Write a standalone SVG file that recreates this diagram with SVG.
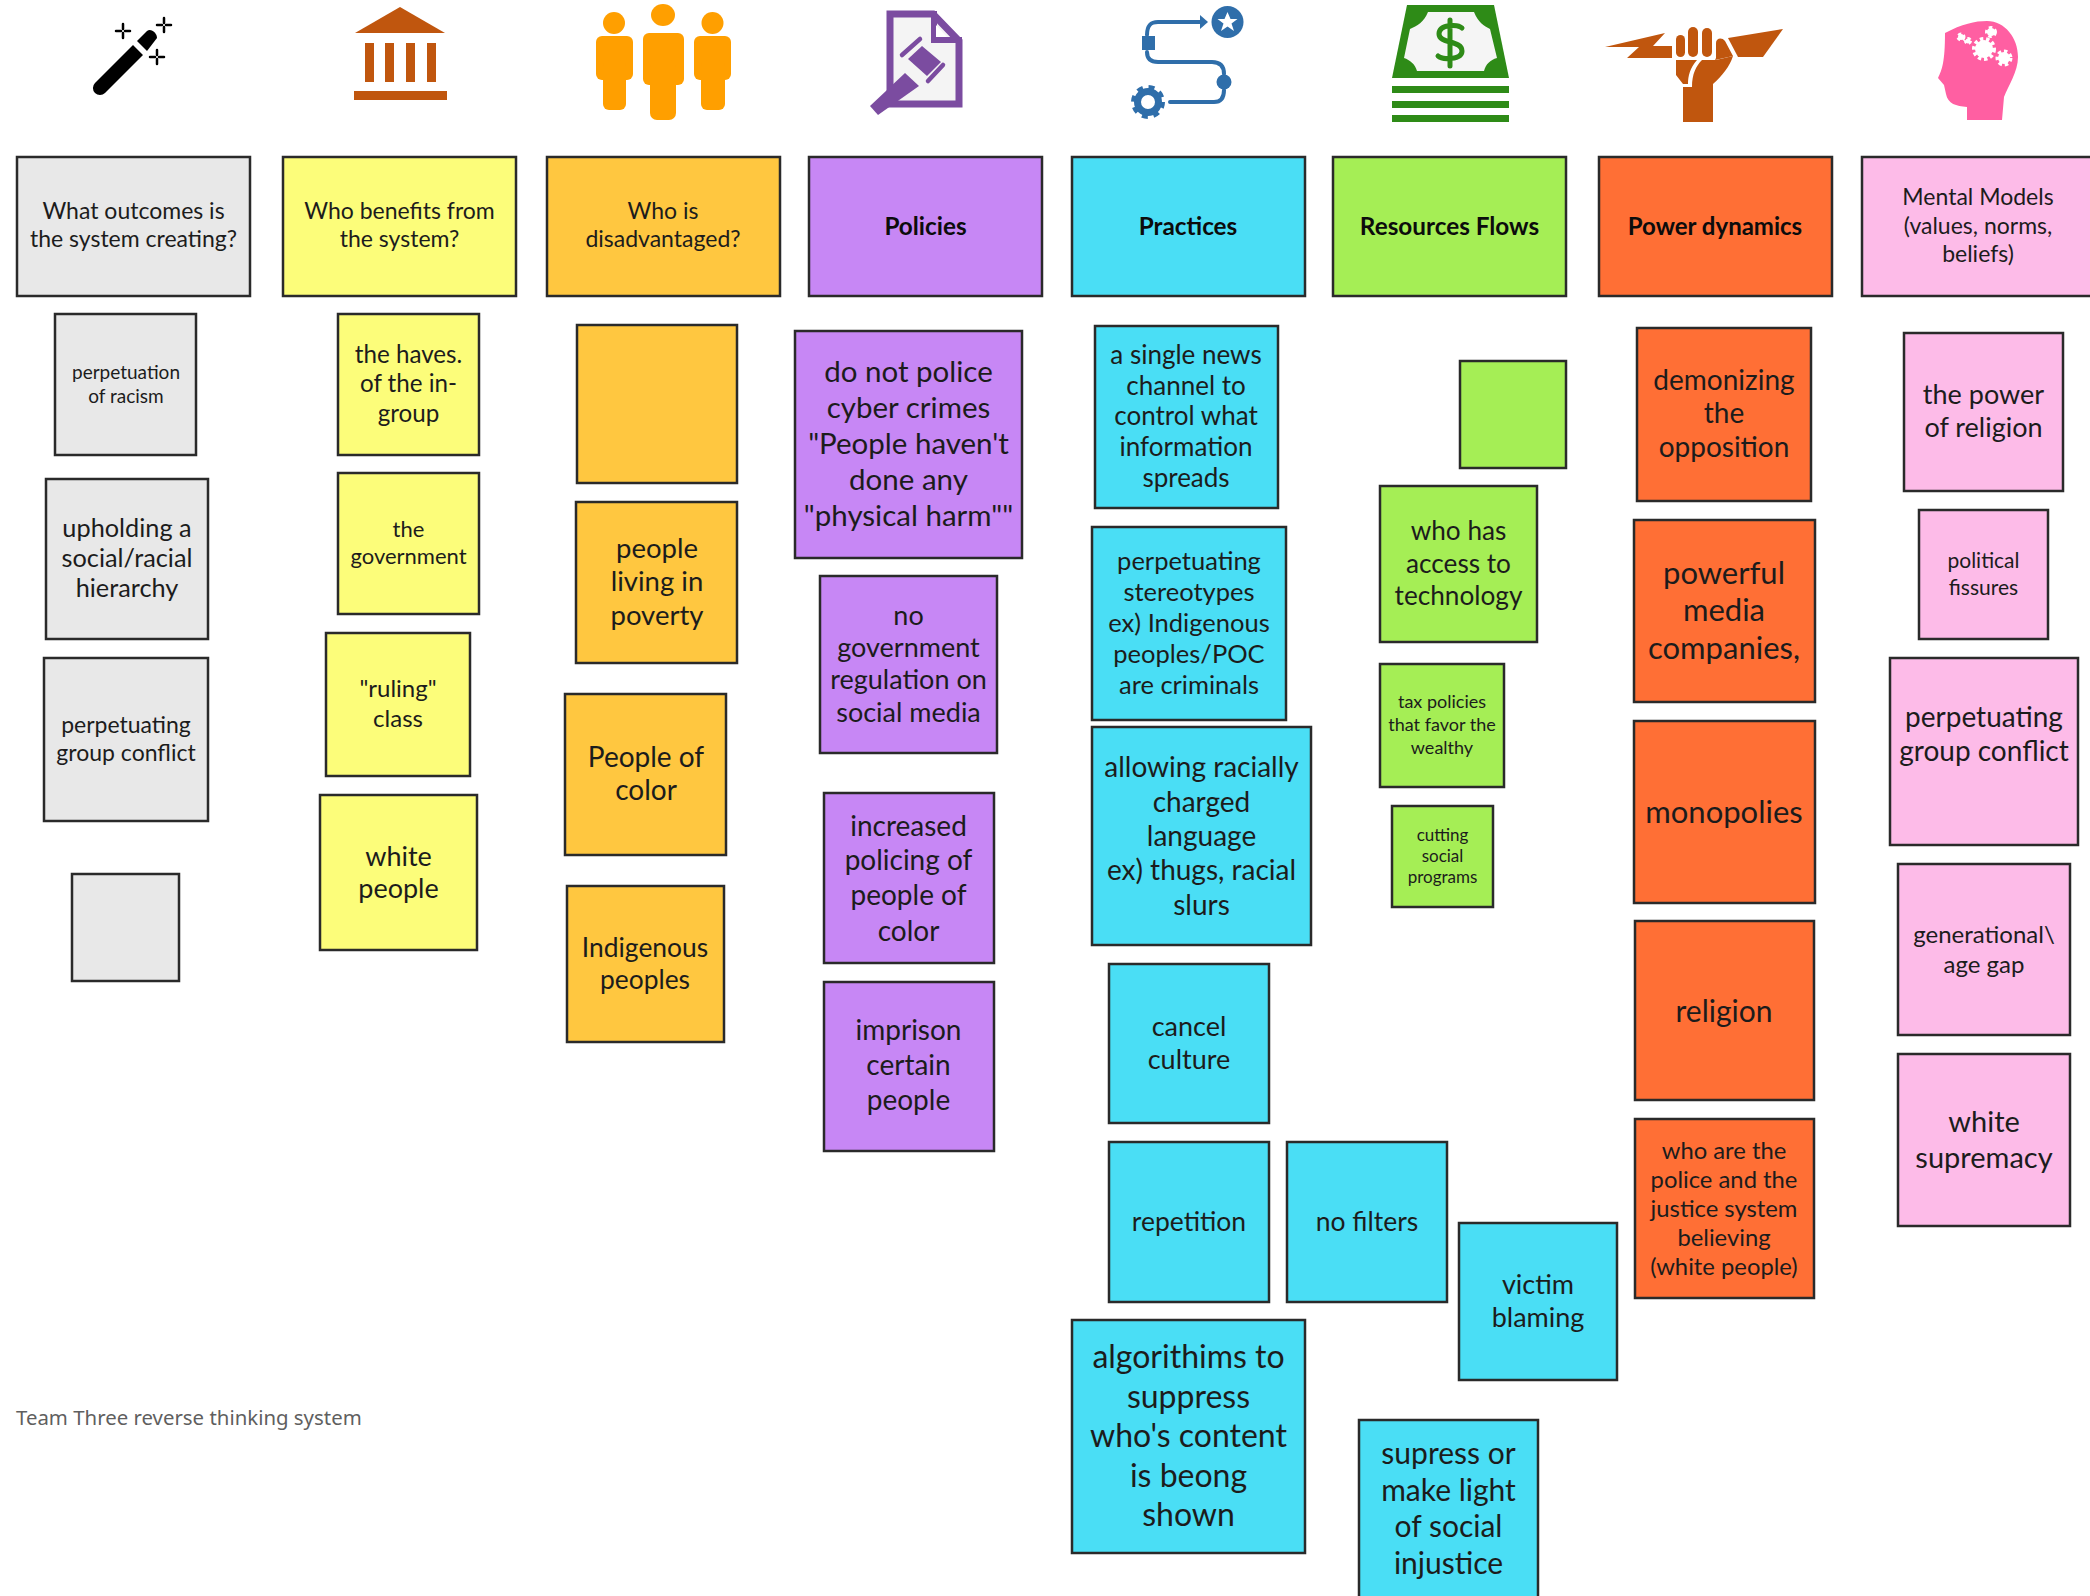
<svg xmlns="http://www.w3.org/2000/svg" width="2090" height="1596" viewBox="0 0 2090 1596">
<style>
rect.n{stroke:#2a2a2a;stroke-width:2.5}
.gy{fill:#e8e8e8}.yl{fill:#fcfd7a}.og{fill:#ffc740}.pu{fill:#c787f5}.bl{fill:#4adef5}.gr{fill:#a5ee55}.rd{fill:#ff6f35}.pk{fill:#fdbbe8}
text{font-family:"Lato","Liberation Sans",sans-serif;text-anchor:middle;fill:#1c1c1c}
.b{font-weight:700;fill:#0c0c0c}
.cap{font-family:"Noto Sans","Liberation Sans",sans-serif;text-anchor:start;fill:#5f5f5f;font-size:20.400px}
.bank{fill:#c0560e}.ppl{fill:#ff9f00}.doc{fill:#7b4ca0}.flow{stroke:#2f6eaa;fill:none;stroke-width:4;stroke-linecap:round}.flf{fill:#2f6eaa}.cash{fill:#2e8b17}.head{fill:#ff5fa2}
</style>
<g id="icons">
<g id="icon-wand"><path d="M95 83L133 45L143 55L105 93A7 7 0 0 1 95 83Z" fill="#000"/><path d="M137 41L147 31C151 28 157 33 157 38L147 51Z" fill="#000"/>
<path d="M123 24v5M123 33v5M116 31h5M125 31h5M164 18v5M164 27v5M157 25h5M166 25h5M157 50v5M157 59v5M150 57h5M159 57h5" stroke="#000" stroke-width="2.500" stroke-linecap="round"/></g>
<g id="icon-bank" class="bank"><path d="M400 7L445 33L355 33Z"/><rect x="365" y="43" width="9" height="39"/><rect x="385" y="43" width="9" height="39"/><rect x="406" y="43" width="9" height="39"/><rect x="427" y="43" width="9" height="39"/><rect x="354" y="91" width="93" height="9"/></g>
<g id="icon-people" class="ppl"><ellipse cx="663" cy="15" rx="12" ry="11"/><rect x="643" y="33" width="41" height="52" rx="6"/><rect x="650" y="60" width="26" height="60" rx="7"/>
<ellipse cx="614" cy="23" rx="11" ry="11"/><rect x="596" y="36" width="37" height="44" rx="6"/><rect x="603" y="60" width="23" height="50" rx="6"/>
<ellipse cx="712.500" cy="23" rx="11" ry="11"/><rect x="694" y="36" width="37" height="44" rx="6"/><rect x="701" y="60" width="24" height="50" rx="6"/></g>
<g id="icon-doc"><path d="M890 14H933L959 41V104H890Z" fill="#f4f4f4" stroke="#7b4ca0" stroke-width="7"/><path d="M934 11V40H962" fill="none" stroke="#7b4ca0" stroke-width="6"/><path d="M936 25L947 37H936Z" fill="#fff"/>
<path class="doc" d="M870 106L905 73L919 86L878 115Z"/><path class="doc" d="M908 59L922 46L941 62L927 76Z"/><path d="M902 55L920 39M928 81L943 65" stroke="#7b4ca0" stroke-width="4.500" stroke-linecap="round"/></g>
<g id="icon-flow"><circle class="flf" cx="1227.500" cy="22" r="16"/><path d="M1227.500 12l3 7h7l-6 4.500 2.500 7.500-6.500-4.500-6.500 4.500 2.500-7.500-6-4.500h7z" fill="#fff"/>
<path class="flow" d="M1147 35C1147 26 1150 22 1158 22H1200M1147 52C1147 58 1150 62 1158 62H1212C1220 62 1224 66 1224 74M1224 90C1224 98 1221 102 1214 102H1170"/><path class="flf" d="M1200 15L1208 22L1200 29Z"/><rect class="flf" x="1142" y="36" width="13" height="14"/><circle class="flf" cx="1224" cy="82" r="7.500"/>
<circle cx="1148" cy="102" r="10.500" fill="none" stroke="#2f6eaa" stroke-width="7"/><circle cx="1148" cy="102" r="15" fill="none" stroke="#2f6eaa" stroke-width="4" stroke-dasharray="6 5.800"/></g>
<g id="icon-money"><path class="cash" d="M1407 5H1494L1509 78H1392Z"/><path d="M1428 12H1474C1478 22 1484 26 1490 29L1497 58C1490 60 1486 64 1484 71H1417C1415 64 1410 60 1404 58L1410 29C1417 26 1424 22 1428 12Z" fill="#f5f5f5"/>
<path d="M1462 28C1458 24 1439 24 1439 34C1439 44 1462 40 1462 51C1462 60 1442 60 1438 56M1450 20V66" fill="none" stroke="#2e8b17" stroke-width="5" stroke-linecap="round"/>
<rect class="cash" x="1392" y="86" width="117" height="7"/><rect class="cash" x="1392" y="101" width="117" height="7"/><rect class="cash" x="1392" y="115" width="117" height="7"/></g>
<g id="icon-fist" class="bank"><path d="M1605 47L1665 33L1653 46H1672V58H1627L1639 47Z"/><path d="M1783 29L1728 38L1738 57H1763Z"/><rect x="1676" y="35" width="9" height="22" rx="4.500"/><rect x="1688" y="27" width="10" height="30" rx="5"/><rect x="1702" y="28" width="10" height="29" rx="5"/><path d="M1716 58V43C1716 38 1722 37 1725 41L1733 56L1715 60Z"/>
<path d="M1676 60H1697C1690 68 1688 76 1688 84H1683L1676 75Z"/><path d="M1702 60H1716L1733 56C1730 66 1722 76 1713 84V122H1683V87H1692C1692 74 1696 66 1702 60Z"/></g>
<g id="icon-head"><path class="head" d="M1945 33C1962 24 1975 21 1987 21C2005 21 2018 38 2018 57C2018 72 2008 86 2004 97L2002 120H1967V107C1956 106 1948 104 1946 94L1944 85L1938 78C1942 70 1945 62 1945 33Z"/>
<g fill="#fff" stroke="#fff" stroke-dasharray="3 2.500"><circle cx="1984" cy="49" r="9" stroke-width="6"/><circle cx="2004" cy="58" r="6" stroke-width="5"/><circle cx="1991" cy="32" r="4" stroke-width="4"/><circle cx="1961" cy="37" r="3" stroke-width="3"/><circle cx="1968" cy="41" r="2.500" stroke-width="3"/></g></g>
</g>
<g id="connectors"/>
<g id="h1"><rect class="n gy" x="17" y="157" width="233" height="139"/><text font-size="23" x="133.500" y="219">What outcomes is</text><text font-size="23" x="133.500" y="247">the system creating?</text></g>
<g id="h2"><rect class="n yl" x="283" y="157" width="233" height="139"/><text font-size="23" x="399.500" y="219">Who benefits from</text><text font-size="23" x="399.500" y="247">the system?</text></g>
<g id="h3"><rect class="n og" x="547" y="157" width="233" height="139"/><text font-size="23" x="663" y="219">Who is</text><text font-size="23" x="663" y="247">disadvantaged?</text></g>
<g id="h4"><rect class="n pu" x="809" y="157" width="233" height="139"/><text class="b" font-size="24.300" x="925.500" y="235">Policies</text></g>
<g id="h5"><rect class="n bl" x="1072" y="157" width="233" height="139"/><text class="b" font-size="24.300" x="1188" y="235">Practices</text></g>
<g id="h6"><rect class="n gr" x="1333" y="157" width="233" height="139"/><text class="b" font-size="24.300" x="1449.500" y="235">Resources Flows</text></g>
<g id="h7"><rect class="n rd" x="1599" y="157" width="233" height="139"/><text class="b" font-size="24" x="1715" y="235">Power dynamics</text></g>
<g id="h8"><rect class="n pk" x="1862" y="157" width="240" height="139"/><text font-size="23" x="1978" y="205">Mental Models</text><text font-size="23" x="1978" y="234">(values, norms,</text><text font-size="23" x="1978" y="262">beliefs)</text></g>

<g id="a1"><rect class="n gy" x="55" y="314" width="141" height="141"/><text font-size="19" x="126" y="379">perpetuation</text><text font-size="19" x="126" y="403">of racism</text></g>
<g id="a2"><rect class="n gy" x="46" y="479" width="162" height="160"/><text font-size="25.300" x="127" y="537">upholding a</text><text font-size="25.300" x="127" y="567">social/racial</text><text font-size="25.300" x="127" y="597">hierarchy</text></g>
<g id="a3"><rect class="n gy" x="44" y="658" width="164" height="163"/><text font-size="23" x="126" y="733">perpetuating</text><text font-size="23" x="126" y="761">group conflict</text></g>
<g id="a4"><rect class="n gy" x="72" y="874" width="107" height="107"/></g>

<g id="b1"><rect class="n yl" x="338" y="314" width="141" height="141"/><text font-size="24.200" x="408.500" y="363">the haves.</text><text font-size="24.200" x="408.500" y="392">of the in-</text><text font-size="24.200" x="408.500" y="422">group</text></g>
<g id="b2"><rect class="n yl" x="338" y="473" width="141" height="141"/><text font-size="22" x="408.500" y="537">the</text><text font-size="22" x="408.500" y="564">government</text></g>
<g id="b3"><rect class="n yl" x="326" y="633" width="144" height="143"/><text font-size="24" x="398" y="697">"ruling"</text><text font-size="24" x="398" y="727">class</text></g>
<g id="b4"><rect class="n yl" x="320" y="795" width="157" height="155"/><text font-size="27" x="398.500" y="866">white</text><text font-size="27" x="398.500" y="898">people</text></g>

<g id="c1"><rect class="n og" x="577" y="325" width="160" height="158"/></g>
<g id="c2"><rect class="n og" x="576" y="502" width="161" height="161"/><text font-size="27.500" x="657" y="558">people</text><text font-size="27.500" x="657" y="591">living in</text><text font-size="27.500" x="657" y="625">poverty</text></g>
<g id="c3"><rect class="n og" x="565" y="694" width="161" height="161"/><text font-size="28" x="646" y="767">People of</text><text font-size="28" x="646" y="800">color</text></g>
<g id="c4"><rect class="n og" x="567" y="886" width="157" height="156"/><text font-size="26.400" x="645" y="957">Indigenous</text><text font-size="26.400" x="645" y="989">peoples</text></g>

<g id="d1"><rect class="n pu" x="795" y="331" width="227" height="227"/><text font-size="29.500" x="908.500" y="382">do not police</text><text font-size="29.500" x="908.500" y="418">cyber crimes</text><text font-size="29.500" x="908.500" y="454">"People haven't</text><text font-size="29.500" x="908.500" y="490">done any</text><text font-size="29.500" x="908.500" y="526">"physical harm""</text></g>
<g id="d2"><rect class="n pu" x="820" y="576" width="177" height="177"/><text font-size="27" x="908.500" y="625">no</text><text font-size="27" x="908.500" y="657">government</text><text font-size="27" x="908.500" y="689">regulation on</text><text font-size="27" x="908.500" y="722">social media</text></g>
<g id="d3"><rect class="n pu" x="824" y="793" width="170" height="170"/><text font-size="28" x="908.500" y="836">increased</text><text font-size="28" x="908.500" y="870">policing of</text><text font-size="28" x="908.500" y="905">people of</text><text font-size="28" x="908.500" y="941">color</text></g>
<g id="d4"><rect class="n pu" x="824" y="982" width="170" height="169"/><text font-size="28" x="908.500" y="1040">imprison</text><text font-size="28" x="908.500" y="1075">certain</text><text font-size="28" x="908.500" y="1110">people</text></g>

<g id="e1"><rect class="n bl" x="1095" y="326" width="183" height="182"/><text font-size="26" x="1186" y="364">a single news</text><text font-size="26" x="1186" y="395">channel to</text><text font-size="26" x="1186" y="425">control what</text><text font-size="26" x="1186" y="456">information</text><text font-size="26" x="1186" y="487">spreads</text></g>
<g id="e2"><rect class="n bl" x="1092" y="527" width="194" height="193"/><text font-size="25.500" x="1189" y="570">perpetuating</text><text font-size="25.500" x="1189" y="601">stereotypes</text><text font-size="25.500" x="1189" y="632">ex) Indigenous</text><text font-size="25.500" x="1189" y="663">peoples/POC</text><text font-size="25.500" x="1189" y="694">are criminals</text></g>
<g id="e3"><rect class="n bl" x="1092" y="727" width="219" height="218"/><text font-size="28" x="1201.500" y="777">allowing racially</text><text font-size="28" x="1201.500" y="812">charged</text><text font-size="28" x="1201.500" y="846">language</text><text font-size="28" x="1201.500" y="880">ex) thugs, racial</text><text font-size="28" x="1201.500" y="915">slurs</text></g>
<g id="e4"><rect class="n bl" x="1109" y="964" width="160" height="159"/><text font-size="27" x="1189" y="1036">cancel</text><text font-size="27" x="1189" y="1069">culture</text></g>
<g id="e5"><rect class="n bl" x="1109" y="1142" width="160" height="160"/><text font-size="26.500" x="1189" y="1231">repetition</text></g>
<g id="e6"><rect class="n bl" x="1287" y="1142" width="160" height="160"/><text font-size="26.500" x="1367" y="1231">no filters</text></g>
<g id="e7"><rect class="n bl" x="1459" y="1223" width="158" height="157"/><text font-size="27" x="1538" y="1294">victim</text><text font-size="27" x="1538" y="1327">blaming</text></g>
<g id="e8"><rect class="n bl" x="1072" y="1320" width="233" height="233"/><text font-size="32" x="1188.500" y="1368">algorithims to</text><text font-size="32" x="1188.500" y="1408">suppress</text><text font-size="32" x="1188.500" y="1447">who's content</text><text font-size="32" x="1188.500" y="1487">is beong</text><text font-size="32" x="1188.500" y="1526">shown</text></g>
<g id="e9"><rect class="n bl" x="1359" y="1420" width="179" height="180"/><text font-size="30" x="1448.500" y="1464">supress or</text><text font-size="30" x="1448.500" y="1501">make light</text><text font-size="30" x="1448.500" y="1537">of social</text><text font-size="30" x="1448.500" y="1574">injustice</text></g>

<g id="f1"><rect class="n gr" x="1460" y="361" width="106" height="107"/></g>
<g id="f2"><rect class="n gr" x="1380" y="486" width="157" height="156"/><text font-size="26.200" x="1458.500" y="540">who has</text><text font-size="26.200" x="1458.500" y="573">access to</text><text font-size="26.200" x="1458.500" y="605">technology</text></g>
<g id="f3"><rect class="n gr" x="1380" y="664" width="124" height="123"/><text font-size="18" x="1442" y="708">tax policies</text><text font-size="18" x="1442" y="731">that favor the</text><text font-size="18" x="1442" y="754">wealthy</text></g>
<g id="f4"><rect class="n gr" x="1392" y="806" width="101" height="101"/><text font-size="17" x="1442.500" y="841">cutting</text><text font-size="17" x="1442.500" y="862">social</text><text font-size="17" x="1442.500" y="883">programs</text></g>

<g id="g1"><rect class="n rd" x="1637" y="328" width="174" height="173"/><text font-size="28" x="1724" y="390">demonizing</text><text font-size="28" x="1724" y="423">the</text><text font-size="28" x="1724" y="457">opposition</text></g>
<g id="g2"><rect class="n rd" x="1634" y="520" width="181" height="182"/><text font-size="31" x="1724" y="584">powerful</text><text font-size="31" x="1724" y="621">media</text><text font-size="31" x="1724" y="659">companies,</text></g>
<g id="g3"><rect class="n rd" x="1634" y="721" width="181" height="182"/><text font-size="31" x="1724" y="823">monopolies</text></g>
<g id="g4"><rect class="n rd" x="1635" y="921" width="179" height="179"/><text font-size="30" x="1724" y="1022">religion</text></g>
<g id="g5"><rect class="n rd" x="1635" y="1119" width="179" height="179"/><text font-size="23.800" x="1724" y="1159">who are the</text><text font-size="23.800" x="1724" y="1188">police and the</text><text font-size="23.800" x="1724" y="1217">justice system</text><text font-size="23.800" x="1724" y="1246">believing</text><text font-size="23.800" x="1724" y="1275">(white people)</text></g>

<g id="k1"><rect class="n pk" x="1904" y="333" width="159" height="158"/><text font-size="27" x="1983.500" y="404">the power</text><text font-size="27" x="1983.500" y="437">of religion</text></g>
<g id="k2"><rect class="n pk" x="1919" y="510" width="129" height="129"/><text font-size="21" x="1983.500" y="568">political</text><text font-size="21" x="1983.500" y="595">fissures</text></g>
<g id="k3"><rect class="n pk" x="1890" y="658" width="188" height="187"/><text font-size="28" x="1984" y="727">perpetuating</text><text font-size="28" x="1984" y="761">group conflict</text></g>
<g id="k4"><rect class="n pk" x="1898" y="864" width="172" height="171"/><text font-size="24" x="1984" y="943">generational\</text><text font-size="24" x="1984" y="973">age gap</text></g>
<g id="k5"><rect class="n pk" x="1898" y="1054" width="172" height="172"/><text font-size="29" x="1984" y="1132">white</text><text font-size="29" x="1984" y="1168">supremacy</text></g>
<text id="caption" class="cap" x="16" y="1425">Team Three reverse thinking system</text>
</svg>
